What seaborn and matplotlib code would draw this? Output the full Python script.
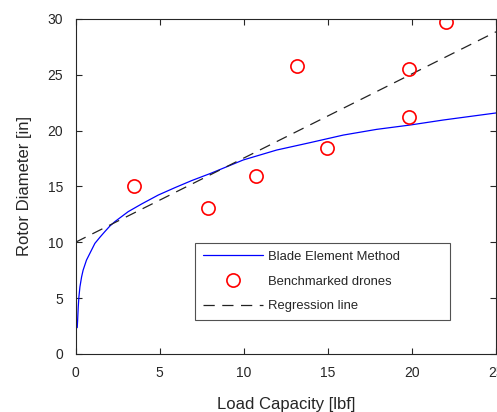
import matplotlib
matplotlib.use("Agg")
import matplotlib.pyplot as plt
import seaborn as sns
import pandas as pd
from matplotlib.lines import Line2D

# benchmarked drones
drone_load = [3.5, 7.9, 10.75, 13.15, 14.95, 19.8, 19.8, 22.0]
drone_diam = [15.0, 13.05, 15.95, 25.8, 18.45, 21.25, 25.5, 29.75]

# blade element method curve
bem_load = [0.1, 0.12, 0.16, 0.2, 0.26, 0.36, 0.45, 0.65, 0.85, 1.15, 1.45, 1.74,
            2.04, 2.34, 3.13, 3.93, 4.92, 5.91, 6.9, 8.05, 9.97, 11.96, 13.94,
            15.92, 17.9, 19.89, 21.87, 25.0]
bem_diam = [2.35, 2.9, 4.2, 5.1, 6.0, 6.9, 7.5, 8.4, 9.0, 9.9, 10.45, 10.95,
            11.45, 11.85, 12.74, 13.43, 14.23, 14.89, 15.52, 16.18, 17.37, 18.26,
            18.92, 19.6, 20.11, 20.5, 20.95, 21.58]

# regression line end points
reg_load = [0.0, 25.0]
reg_diam = [10.0, 28.85]

sns.set_style("ticks")
plt.rcParams['font.family'] = ['Liberation Sans', 'DejaVu Sans']

fig = plt.figure(figsize=(4.97, 4.12), dpi=100)
ax = fig.add_axes([0.152, 0.141, 0.846, 0.813])

bem = pd.DataFrame({"load": bem_load, "diam": bem_diam})
reg = pd.DataFrame({"load": reg_load, "diam": reg_diam})

sns.lineplot(data=bem, x="load", y="diam", color="#0000ff", linewidth=0.9, ax=ax)
sns.lineplot(data=reg, x="load", y="diam", color="#222222", linewidth=0.9, ax=ax)
ax.lines[-1].set_dashes((9, 6))
ax.plot(drone_load, drone_diam, linestyle="none", marker="o", markersize=9.5,
        markerfacecolor="none", markeredgecolor="#ff0000", markeredgewidth=1.2)

ax.set_xlim(0, 25)
ax.set_ylim(0, 30)
ax.set_xticks(range(0, 26, 5))
ax.set_yticks(range(0, 31, 5))
ax.tick_params(direction="in", top=True, right=True, length=4, width=0.8,
               labelsize=10, colors="#262626", pad=9)
for s in ax.spines.values():
    s.set_visible(True)
    s.set_color("#262626")
    s.set_linewidth(0.8)

ax.set_xlabel("Load Capacity [lbf]", fontsize=12, color="#262626", labelpad=12)
ax.set_ylabel("Rotor Diameter [in]", fontsize=12, color="#262626", labelpad=11)

handles = [
    Line2D([], [], color="#0000ff", linewidth=0.9),
    Line2D([], [], linestyle="none", marker="o", markersize=9.5,
           markerfacecolor="none", markeredgecolor="#ff0000", markeredgewidth=1.2),
    Line2D([], [], color="#222222", linewidth=0.9, dashes=(9, 6)),
]
labels = ["Blade Element Method", "Benchmarked drones", "Regression line"]
leg = ax.legend(handles, labels, loc="lower left", bbox_to_anchor=(0.284, 0.1015, 0.606, 0.23),
                mode="expand", fontsize=9.4, frameon=True, fancybox=False,
                handlelength=4.6, labelspacing=0.95, borderpad=0.6, handletextpad=0.4,
                borderaxespad=0)
leg.get_frame().set_edgecolor("#262626")
leg.get_frame().set_linewidth(0.8)

fig.savefig("out.png", dpi=100)
